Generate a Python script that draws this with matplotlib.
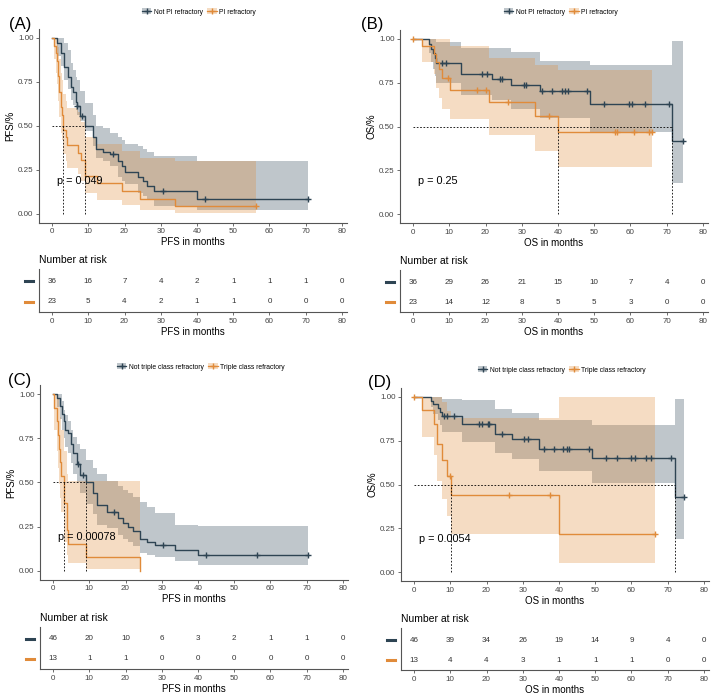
import numpy as np
import matplotlib
matplotlib.use("Agg")
import matplotlib.pyplot as plt
from matplotlib.patches import Patch
from matplotlib.lines import Line2D
from matplotlib.legend_handler import HandlerTuple

plt.rcParams['font.family'] = ['Liberation Sans', 'DejaVu Sans']

W, H = 724, 698
DARK = '#2E4453'
ORANGE = '#E08B3A'

time_ticks = [0, 10, 20, 30, 40, 50, 60, 70, 80]

# ---- (A) PFS, PI refractory ----
a_dark_t = [0, 1.3, 2.5, 3.4, 4.3, 5.1, 5.9, 6.6, 6.9, 7.7, 9.1, 11.2, 12.1, 14.2, 16.0, 18.3, 19.2, 20.1, 23.8, 25.2, 26.1, 28.1, 40.1, 70.7]
a_dark_s = [1.0, 0.972, 0.917, 0.833, 0.778, 0.722, 0.694, 0.639, 0.611, 0.555, 0.50, 0.435, 0.37, 0.355, 0.34, 0.30, 0.275, 0.24, 0.21, 0.185, 0.16, 0.133, 0.087, 0.087]
a_dark_hi = [1.0, 1.0, 1.0, 0.97, 0.93, 0.86, 0.82, 0.78, 0.76, 0.70, 0.63, 0.56, 0.50, 0.49, 0.46, 0.44, 0.42, 0.40, 0.385, 0.37, 0.35, 0.33, 0.30, 0.30]
a_dark_lo = [1.0, 0.90, 0.84, 0.76, 0.71, 0.65, 0.62, 0.59, 0.56, 0.53, 0.47, 0.385, 0.32, 0.30, 0.27, 0.21, 0.19, 0.17, 0.12, 0.10, 0.08, 0.045, 0.025, 0.025]
a_dark_cens = [7.0, 8.2, 16.9, 30.5, 42.2, 70.7]
a_or_t = [0, 0.6, 1.1, 1.5, 1.7, 2.0, 2.4, 2.7, 3.1, 3.8, 4.0, 7.3, 7.9, 9.1, 12.3, 19.2, 24.3, 33.9, 56.3]
a_or_s = [1.0, 0.957, 0.913, 0.87, 0.783, 0.696, 0.609, 0.565, 0.478, 0.435, 0.391, 0.348, 0.304, 0.217, 0.174, 0.13, 0.087, 0.043, 0.043]
a_or_hi = [1.0, 1.0, 1.0, 1.0, 0.95, 0.88, 0.80, 0.76, 0.68, 0.64, 0.60, 0.58, 0.52, 0.44, 0.40, 0.36, 0.32, 0.30, 0.30]
a_or_lo = [1.0, 0.88, 0.80, 0.74, 0.64, 0.55, 0.46, 0.42, 0.34, 0.30, 0.26, 0.23, 0.19, 0.12, 0.08, 0.05, 0.025, 0.007, 0.007]
a_or_cens = [56.3]
a_risk_dark = [36, 16, 7, 4, 2, 1, 1, 1, 0]
a_risk_or = [23, 5, 4, 2, 1, 1, 0, 0, 0]

# ---- (B) OS, PI refractory ----
b_dark_t = [0, 4.3, 5.0, 5.5, 6.0, 6.3, 13.1, 21.8, 27.0, 35.1, 48.7, 71.4, 74.4]
b_dark_s = [1.0, 0.972, 0.944, 0.917, 0.889, 0.861, 0.80, 0.77, 0.735, 0.70, 0.63, 0.42, 0.42]
b_dark_hi = [1.0, 1.0, 1.0, 1.0, 1.0, 0.98, 0.95, 0.95, 0.925, 0.876, 0.85, 0.99, 0.99]
b_dark_lo = [1.0, 0.92, 0.87, 0.83, 0.79, 0.75, 0.68, 0.65, 0.60, 0.55, 0.47, 0.18, 0.18]
b_dark_cens = [8.0, 9.1, 18.9, 20.4, 23.9, 24.6, 30.5, 31.2, 35.6, 38.3, 41.1, 42.0, 42.7, 48.0, 52.6, 59.5, 60.4, 64.1, 70.5, 74.4]
b_or_t = [0, 2.5, 5.7, 6.3, 7.1, 8.0, 10.3, 20.9, 33.7, 39.9, 65.9]
b_or_s = [1.0, 0.957, 0.913, 0.87, 0.826, 0.775, 0.71, 0.64, 0.56, 0.47, 0.47]
b_or_hi = [1.0, 1.0, 1.0, 1.0, 1.0, 1.0, 0.96, 0.89, 0.85, 0.82, 0.82]
b_or_lo = [1.0, 0.87, 0.80, 0.72, 0.66, 0.60, 0.54, 0.45, 0.36, 0.27, 0.27]
b_or_cens = [0.0, 9.7, 17.7, 20.1, 26.1, 37.4, 55.6, 56.3, 60.9, 65.0, 65.9]
b_risk_dark = [36, 29, 26, 21, 15, 10, 7, 4, 0]
b_risk_or = [23, 14, 12, 8, 5, 5, 3, 0, 0]

# ---- (C) PFS, triple class refractory ----
c_dark_t = [0, 1.2, 1.9, 2.4, 2.9, 3.3, 4.2, 4.9, 5.6, 6.5, 7.4, 9.1, 11.1, 12.2, 14.8, 18.0, 19.4, 20.8, 22.2, 24.0, 25.8, 28.1, 33.7, 40.1, 70.4]
c_dark_s = [1.0, 0.978, 0.935, 0.89, 0.85, 0.80, 0.78, 0.72, 0.67, 0.605, 0.54, 0.50, 0.44, 0.37, 0.33, 0.30, 0.27, 0.25, 0.225, 0.18, 0.16, 0.145, 0.12, 0.09, 0.09]
c_dark_hi = [1.0, 1.0, 1.0, 0.96, 0.91, 0.88, 0.85, 0.80, 0.76, 0.72, 0.69, 0.63, 0.58, 0.55, 0.51, 0.48, 0.46, 0.44, 0.42, 0.39, 0.36, 0.325, 0.26, 0.253, 0.253]
c_dark_lo = [1.0, 0.93, 0.86, 0.80, 0.75, 0.70, 0.67, 0.61, 0.55, 0.50, 0.44, 0.38, 0.32, 0.26, 0.24, 0.20, 0.18, 0.16, 0.14, 0.10, 0.09, 0.075, 0.055, 0.035, 0.035]
c_dark_cens = [7.0, 8.2, 16.8, 30.4, 42.1, 56.2, 70.4]
c_or_t = [0, 0.4, 1.0, 1.3, 1.6, 2.0, 2.3, 3.1, 3.8, 4.1, 9.1, 24.0]
c_or_s = [1.0, 0.923, 0.846, 0.769, 0.692, 0.615, 0.538, 0.385, 0.231, 0.154, 0.077, 0.0]
c_or_hi = [1.0, 1.0, 1.0, 0.98, 0.93, 0.87, 0.80, 0.68, 0.55, 0.51, 0.51, 0.51]
c_or_lo = [1.0, 0.80, 0.68, 0.58, 0.49, 0.41, 0.33, 0.16, 0.09, 0.045, 0.012, 0.012]
c_or_cens = []
c_risk_dark = [46, 20, 10, 6, 3, 2, 1, 1, 0]
c_risk_or = [13, 1, 1, 0, 0, 0, 0, 0, 0]

# ---- (D) OS, triple class refractory ----
d_dark_t = [0, 4.6, 5.3, 6.5, 7.1, 7.8, 13.2, 22.3, 27.0, 34.6, 49.2, 72.0, 74.4]
d_dark_s = [1.0, 0.978, 0.957, 0.935, 0.913, 0.89, 0.845, 0.79, 0.76, 0.70, 0.65, 0.43, 0.43]
d_dark_hi = [1.0, 1.0, 1.0, 1.0, 1.0, 0.99, 0.98, 0.93, 0.905, 0.87, 0.84, 0.99, 0.99]
d_dark_lo = [1.0, 0.94, 0.90, 0.87, 0.84, 0.80, 0.74, 0.68, 0.645, 0.575, 0.51, 0.19, 0.19]
d_dark_cens = [8.3, 9.2, 11.1, 18.0, 18.7, 20.3, 20.8, 24.3, 30.4, 31.4, 36.0, 38.5, 41.1, 42.2, 42.9, 48.2, 52.9, 56.0, 60.0, 60.9, 64.1, 65.5, 71.0, 74.4]
d_or_t = [0, 2.3, 5.4, 6.4, 7.7, 9.0, 10.1, 40.1, 66.4]
d_or_s = [1.0, 0.923, 0.846, 0.73, 0.64, 0.55, 0.44, 0.22, 0.22]
d_or_hi = [1.0, 1.0, 1.0, 1.0, 0.97, 0.92, 0.88, 1.0, 1.0]
d_or_lo = [1.0, 0.77, 0.67, 0.52, 0.42, 0.32, 0.22, 0.05, 0.05]
d_or_cens = [0.0, 9.8, 26.1, 37.5, 66.4]
d_risk_dark = [46, 39, 34, 26, 19, 14, 9, 4, 0]
d_risk_or = [13, 4, 4, 3, 1, 1, 1, 0, 0]


def px_rect(left, right, top, bottom):
    return [left / W, 1 - bottom / H, (right - left) / W, (bottom - top) / H]


def style_axis(ax):
    for s in ['top', 'right']:
        ax.spines[s].set_visible(False)
    for s in ['left', 'bottom']:
        ax.spines[s].set_color('#555555')
        ax.spines[s].set_linewidth(0.8)
    ax.tick_params(length=2.5, width=0.6, color='#555555', labelsize=5.8,
                   labelcolor='#444444', pad=1.5)


def km_panel(fig, rect, curves, ylab, xlab, pval):
    ax = fig.add_axes(rect)
    for t, s, lo, hi, cens, col in curves:
        ax.fill_between(t, lo, hi, step='post', color=col, alpha=0.3, lw=0)
    medians = []
    for t, s, lo, hi, cens, col in curves:
        t = np.array(t)
        s = np.array(s)
        ax.step(t, s, where='post', color=col, lw=1.0)
        if len(cens):
            idx = np.searchsorted(t, cens, side='right') - 1
            ax.plot(cens, s[idx], ls='none', marker='+', color=col, ms=5, mew=1.0)
        below = np.where(s <= 0.5)[0]
        if len(below):
            medians.append(t[below[0]])
    for m in medians:
        ax.plot([m, m], [0, 0.5], color='black', lw=0.6, ls=(0, (2, 2)))
    ax.plot([0, max(medians)], [0.5, 0.5], color='black', lw=0.6, ls=(0, (2, 2)))
    ax.text(1.5, 0.19, pval, fontsize=7.8, va='center', ha='left')
    ax.set_xlim(-3.6, 81.4)
    ax.set_ylim(-0.05, 1.05)
    ax.set_xticks(time_ticks)
    ax.set_yticks([0, 0.25, 0.5, 0.75, 1.0])
    ax.set_yticklabels(['0.00', '0.25', '0.50', '0.75', '1.00'])
    ax.set_xlabel(xlab, fontsize=7, labelpad=1.5)
    ax.set_ylabel(ylab, fontsize=7, labelpad=2)
    style_axis(ax)
    return ax


def risk_panel(fig, rect, r_dark, r_or, xlab):
    ax = fig.add_axes(rect)
    for j, x in enumerate(time_ticks):
        ax.text(x, 2, str(r_dark[j]), ha='center', va='center', fontsize=5.8, color='#333333')
        ax.text(x, 1, str(r_or[j]), ha='center', va='center', fontsize=5.8, color='#333333')
    trans = ax.get_yaxis_transform()
    ax.plot([-0.045, -0.02], [2, 2], color=DARK, lw=2.2, transform=trans, clip_on=False)
    ax.plot([-0.045, -0.02], [1, 1], color=ORANGE, lw=2.2, transform=trans, clip_on=False)
    ax.set_xlim(-3.6, 81.4)
    ax.set_ylim(0.5, 2.6)
    ax.set_xticks(time_ticks)
    ax.set_yticks([])
    ax.set_xlabel(xlab, fontsize=7, labelpad=1.5)
    ax.text(0, 1.1, 'Number at risk', transform=ax.transAxes, fontsize=7.5, ha='left', va='bottom')
    style_axis(ax)
    return ax


def legend(fig, cx, cy, labels):
    handles = [(Patch(facecolor=DARK, alpha=0.3, edgecolor='none'),
                Line2D([], [], color=DARK, marker='+', lw=0.9, ms=4)),
               (Patch(facecolor=ORANGE, alpha=0.3, edgecolor='none'),
                Line2D([], [], color=ORANGE, marker='+', lw=0.9, ms=4))]
    fig.legend(handles, labels, loc='center', bbox_to_anchor=(cx / W, 1 - cy / H),
               ncol=2, frameon=False, fontsize=4.9, handlelength=1.4, handleheight=1.0,
               columnspacing=0.6, handletextpad=0.4,
               handler_map={tuple: HandlerTuple(ndivide=1)})


fig = plt.figure(figsize=(7.24, 6.98), dpi=100)

km_panel(fig, px_rect(39, 347, 29.2, 222.8),
         [(a_dark_t, a_dark_s, a_dark_lo, a_dark_hi, a_dark_cens, DARK),
          (a_or_t, a_or_s, a_or_lo, a_or_hi, a_or_cens, ORANGE)],
         'PFS/%', 'PFS in months', 'p = 0.049')
risk_panel(fig, px_rect(39, 347, 269, 312), a_risk_dark, a_risk_or, 'PFS in months')

km_panel(fig, px_rect(400, 708, 30, 223),
         [(b_dark_t, b_dark_s, b_dark_lo, b_dark_hi, b_dark_cens, DARK),
          (b_or_t, b_or_s, b_or_lo, b_or_hi, b_or_cens, ORANGE)],
         'OS/%', 'OS in months', 'p = 0.25')
risk_panel(fig, px_rect(400, 708, 270, 312), b_risk_dark, b_risk_or, 'OS in months')

km_panel(fig, px_rect(40, 348, 385.5, 579.5),
         [(c_dark_t, c_dark_s, c_dark_lo, c_dark_hi, c_dark_cens, DARK),
          (c_or_t, c_or_s, c_or_lo, c_or_hi, c_or_cens, ORANGE)],
         'PFS/%', 'PFS in months', 'p = 0.00078')
risk_panel(fig, px_rect(40, 348, 627, 669), c_risk_dark, c_risk_or, 'PFS in months')

km_panel(fig, px_rect(401, 709, 388, 581),
         [(d_dark_t, d_dark_s, d_dark_lo, d_dark_hi, d_dark_cens, DARK),
          (d_or_t, d_or_s, d_or_lo, d_or_hi, d_or_cens, ORANGE)],
         'OS/%', 'OS in months', 'p = 0.0054')
risk_panel(fig, px_rect(401, 709, 628, 670), d_risk_dark, d_risk_or, 'OS in months')

legend(fig, 199, 12, ['Not PI refractory', 'PI refractory'])
legend(fig, 561, 12, ['Not PI refractory', 'PI refractory'])
legend(fig, 201, 367, ['Not triple class refractory', 'Triple class refractory'])
legend(fig, 562, 370, ['Not triple class refractory', 'Triple class refractory'])

for lab, x, y in [('(A)', 9, 24), ('(B)', 361, 25), ('(C)', 8, 381), ('(D)', 368, 382)]:
    fig.text(x / W, 1 - y / H, lab, fontsize=12, ha='left', va='center')

fig.savefig('out.png', dpi=100)
